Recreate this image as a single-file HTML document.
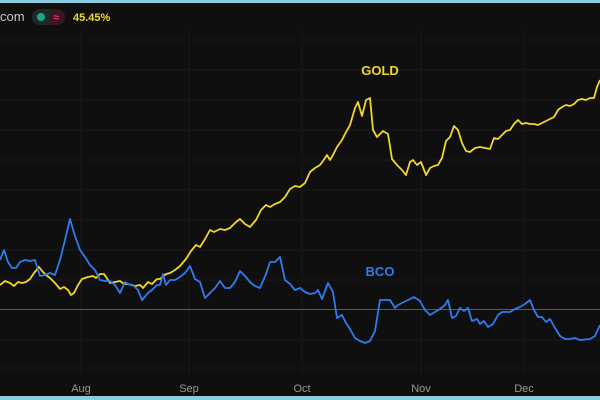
<!DOCTYPE html>
<html><head><meta charset="utf-8"><style>
body{margin:0;background:#0f0f0f;width:600px;height:400px;overflow:hidden;font-family:"Liberation Sans",sans-serif}
</style></head><body>
<svg width="600" height="400" xmlns="http://www.w3.org/2000/svg" style="position:absolute;left:0;top:0">
<rect width="600" height="400" fill="#0f0f0f"/>
<g stroke="#181818" stroke-width="1">
<line x1="0" y1="40" x2="600" y2="40"/><line x1="0" y1="70" x2="600" y2="70"/><line x1="0" y1="100" x2="600" y2="100"/>
<line x1="0" y1="130" x2="600" y2="130"/><line x1="0" y1="160" x2="600" y2="160"/><line x1="0" y1="190" x2="600" y2="190"/>
<line x1="0" y1="220" x2="600" y2="220"/><line x1="0" y1="250" x2="600" y2="250"/><line x1="0" y1="280" x2="600" y2="280"/>
<line x1="0" y1="340" x2="600" y2="340"/><line x1="0" y1="368" x2="600" y2="368"/>
<line x1="81" y1="30" x2="81" y2="375"/><line x1="189" y1="30" x2="189" y2="375"/><line x1="302" y1="30" x2="302" y2="375"/>
<line x1="421" y1="30" x2="421" y2="375"/><line x1="524" y1="30" x2="524" y2="375"/>
</g>
<line x1="0" y1="309.5" x2="600" y2="309.5" stroke="#5a5a5a" stroke-width="1"/>
<polyline fill="none" stroke="#f2d729" stroke-width="1.8" stroke-linejoin="round" points="0,285 5,281 10,283 14,286 18,282 22,283 26,282 30,279 34,273 39,267 42,271 46,275 50,278 55,283 60,289 64,287 68,290 71,295 74,293 78,285 82,279 88,277 93,276 96,278 100,274 104,274 110,283 115,282 120,281 124,284 128,284 135,286 140,285 143,288 148,282 152,284 157,279 160,279 166,274 170,273 175,270 180,266 186,259 191,251 196,245 200,247 205,239 210,230 214,232 220,229 225,230 230,228 236,222 240,219 245,224 250,227 256,220 261,210 266,205 270,207 275,204 280,202 285,197 290,189 295,186 300,187 305,183 310,172 315,168 320,165 323,161 327,155 330,160 333,155 337,147 342,140 345,134 350,125 355,108 358,102 362,116 366,100 370,98 373,130 377,137 380,134 383,131 388,134 392,159 397,165 402,170 406,175 410,162 413,160 417,165 421,162 426,175 430,168 434,166 438,165 442,158 446,141 450,137 454,126 458,130 462,143 466,151 470,152 475,148 480,147 485,148 490,149 494,138 498,139 502,135 506,131 510,130 514,124 518,120 522,124 526,123 530,124 534,124 538,125 542,123 546,121 550,119 554,117 558,110 562,107 566,105 570,106 574,104 578,100 582,99 586,100 590,98 594,98 597,87 600,80"/>
<polyline fill="none" stroke="#2f7cf0" stroke-width="1.8" stroke-linejoin="round" points="0,260 4,250 8,262 12,268 16,268 20,262 25,260 30,261 35,260 40,276 45,275 50,273 55,275 60,260 65,240 70,219 75,236 80,250 85,257 90,265 95,270 100,280 105,281 110,281 115,285 120,293 125,282 128,284 133,285 138,290 142,300 148,293 152,290 157,285 160,285 163,274 166,285 170,280 175,280 180,277 185,273 190,266 195,279 200,282 205,298 210,293 215,288 220,281 225,288 230,288 235,282 240,271 245,276 250,282 255,286 260,288 266,274 270,262 275,262 280,257 285,280 290,284 295,290 300,288 305,292 310,294 315,293 318,290 322,299 328,283 333,292 337,318 342,315 346,323 350,329 355,338 360,341 365,343 370,341 375,331 380,300 385,300 390,300 395,308 398,305 402,303 408,300 414,297 420,301 425,310 430,315 435,312 440,309 445,305 448,300 452,318 456,316 460,308 464,311 468,308 472,321 477,319 480,324 484,321 488,327 493,324 498,315 502,312 506,312 510,312 515,309 520,307 525,304 530,300 534,310 538,317 542,317 546,322 550,319 555,328 560,336 565,339 570,339 575,338 580,340 590,339 595,336 600,325"/>
<text x="380" y="75" fill="#f2d729" font-size="13" font-weight="bold" text-anchor="middle">GOLD</text>
<text x="380" y="276" fill="#2f7cf0" font-size="13" font-weight="bold" text-anchor="middle">BCO</text>
<g fill="#999" font-size="11" text-anchor="middle">
<text x="81" y="392">Aug</text><text x="189" y="392">Sep</text><text x="302" y="392">Oct</text><text x="421" y="392">Nov</text><text x="524" y="392">Dec</text>
</g>
<text x="0" y="21" fill="#c8c8c8" font-size="13">com</text>
<rect x="32" y="9" width="33" height="16" rx="8" fill="#1d2a27"/>
<path d="M49,9 h8 a8,8 0 0 1 0,16 h-8 z" fill="#3a1522"/>
<circle cx="41" cy="17" r="4" fill="#1fa58a"/>
<text x="56" y="21" fill="#e0336a" font-size="11" font-weight="bold" text-anchor="middle">≈</text>
<text x="73" y="21" fill="#f2d729" font-size="11" font-weight="bold">45.45%</text>
<rect x="0" y="0" width="600" height="3" fill="#8ccbe0"/>
<rect x="0" y="396" width="600" height="4" fill="#8ccbe0"/>
</svg>
</body></html>
